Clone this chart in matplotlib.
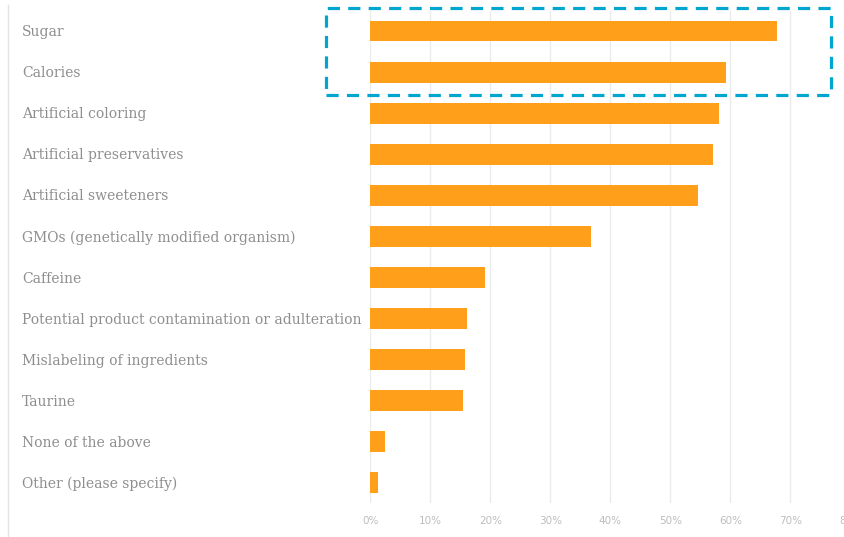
import matplotlib
matplotlib.use("Agg")
import matplotlib.pyplot as plt
from matplotlib.patches import Rectangle
from matplotlib.lines import Line2D
from matplotlib.transforms import blended_transform_factory
from matplotlib.ticker import FuncFormatter

categories = [
    "Sugar",
    "Calories",
    "Artificial coloring",
    "Artificial preservatives",
    "Artificial sweeteners",
    "GMOs (genetically modified organism)",
    "Caffeine",
    "Potential product contamination or adulteration",
    "Mislabeling of ingredients",
    "Taurine",
    "None of the above",
    "Other (please specify)",
]
shares = [0.678, 0.593, 0.581, 0.571, 0.546, 0.368, 0.191, 0.161, 0.158, 0.154, 0.025, 0.012]
x_ticks = [0.0, 0.1, 0.2, 0.3, 0.4, 0.5, 0.6, 0.7, 0.8]

W, H = 844, 537
fig = plt.figure(figsize=(W / 100, H / 100), dpi=100)
fig.patch.set_facecolor("white")

ax = fig.add_axes([370.3 / W, 34 / H, 480 / W, 492.5 / H])
ax.set_xlim(0, 0.8)
ax.set_ylim(len(categories) - 0.5, -0.5)

ypos = list(range(len(categories)))
ax.barh(ypos, shares, height=0.51, color="#ff9f1a", zorder=3)

ax.set_xticks(x_ticks)
ax.xaxis.set_major_formatter(FuncFormatter(lambda v, p: f"{v * 100:.0f}%"))
ax.tick_params(axis="x", length=0, pad=9, labelsize=7.5, labelcolor="#bdbdbd")
for lbl in ax.get_xticklabels():
    lbl.set_clip_on(False)
ax.set_yticks([])
ax.grid(axis="x", color="#ebebeb", linewidth=1.0, zorder=0)
for s in ax.spines.values():
    s.set_visible(False)

# category labels, left aligned at a fixed margin
tr = blended_transform_factory(fig.transFigure, ax.transData)
for y, name in zip(ypos, categories):
    ax.text(22 / W, y + 0.03, name, transform=tr, ha="left", va="center",
            fontsize=10.0, color="#8e8e8e", family="DejaVu Serif")

# thin page edge on the left
fig.add_artist(Line2D([7.5 / W, 7.5 / W], [0, 1 - 5 / H], transform=fig.transFigure,
                      color="#e4e4e4", linewidth=1.0))

# dashed highlight around the top two items
x0, x1 = 325.5 / W, 830.7 / W
y0, y1 = 1 - 95 / H, 1 - 7.5 / H
box = Rectangle((x0, y0), x1 - x0, y1 - y0, transform=fig.transFigure,
                fill=False, edgecolor="#00a6cf", linewidth=2.3,
                linestyle=(0, (3.8, 2.6)), zorder=10)
fig.add_artist(box)

fig.savefig("out.png", dpi=100, facecolor="white")
